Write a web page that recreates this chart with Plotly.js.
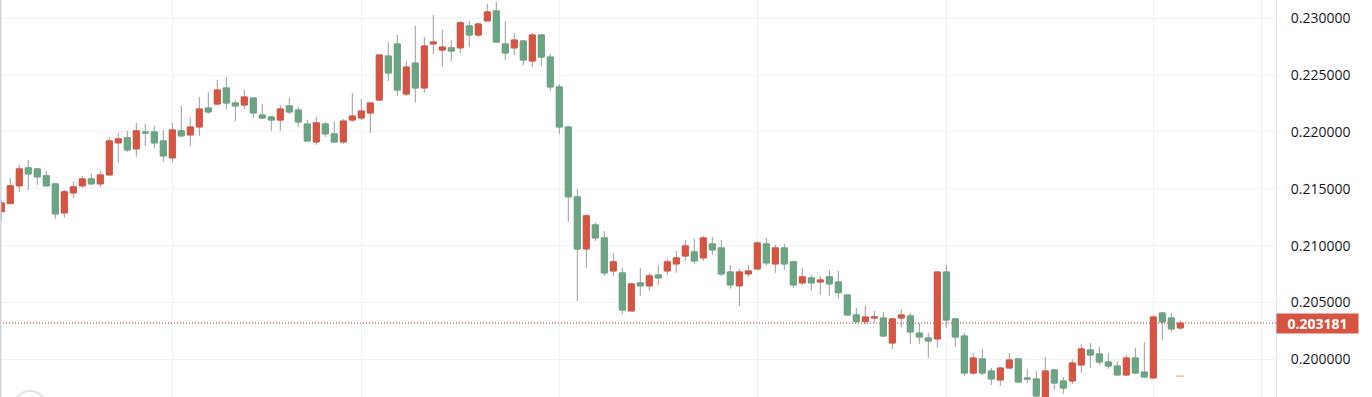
<!DOCTYPE html>
<html>
<head>
<meta charset="utf-8">
<script src="https://cdn.plot.ly/plotly-3.0.1.min.js"></script>
<style>html,body{margin:0;padding:0;background:#fff;}#chart{width:1372px;height:397px;}</style>
</head>
<body>
<div id="chart"></div>
<script>
// ---- data ----
const openVals = [
0.21299,0.2137,0.21526,0.21684,0.21675,0.21614,0.21543,0.21288,0.21464,0.21526,
0.21587,0.21543,0.21622,0.21904,0.21948,0.21851,0.2200,0.2200,0.21921,0.21772,
0.2201,0.21974,0.22044,0.22211,0.22246,0.22387,0.22255,0.22237,0.22299,0.22149,
0.22132,0.22105,0.22229,0.22193,0.2207,0.21912,0.2207,0.21983,0.21912,0.22105,
0.22123,0.22167,0.22281,0.22668,0.22774,0.22334,0.22606,0.22387,0.22774,0.22721,
0.2274,0.2274,0.22933,0.22853,0.22977,0.23065,0.22774,0.2274,0.228,0.22624,
0.22853,0.22659,0.22396,0.22044,0.21429,0.20971,0.21182,0.21068,0.20777,0.2076,
0.20425,0.20672,0.20646,0.20742,0.20777,0.20839,0.20909,0.20945,0.20892,0.21015,
0.2098,0.20768,0.20646,0.20751,0.20795,0.21015,0.20839,0.2098,0.20857,0.20672,
0.20716,0.2068,0.20725,0.2068,0.20566,0.2039,0.20331,0.20363,0.20363,0.20143,
0.20363,0.20381,0.20231,0.20187,0.20179,0.20768,0.20355,0.20205,0.19879,0.20003,
0.19897,0.19818,0.19923,0.20003,0.19836,0.19827,0.19662,0.19906,0.19809,0.19809,
0.1995,0.20082,0.20047,0.19976,0.19941,0.19862,0.20011,0.19888,0.19836,0.20407,
0.20363,0.20276];
const highVals = [
0.21402,0.21596,0.2171,0.21754,0.21675,0.21658,0.21552,0.2149,0.21561,0.21614,
0.21631,0.21658,0.21956,0.21992,0.2201,0.2208,0.2207,0.22053,0.22018,0.2208,
0.2223,0.22124,0.22308,0.22352,0.22457,0.22483,0.22281,0.22369,0.22299,0.22246,
0.2214,0.22237,0.22299,0.2222,0.22105,0.22132,0.22088,0.22088,0.22114,0.22343,
0.2229,0.22255,0.22677,0.22791,0.22853,0.22624,0.22933,0.22835,0.2303,0.22897,
0.22809,0.22977,0.22977,0.2296,0.23126,0.23144,0.22977,0.22871,0.22809,0.22871,
0.22862,0.22686,0.22422,0.22053,0.21499,0.21279,0.212,0.21129,0.20936,0.20804,
0.20672,0.20804,0.2076,0.20822,0.20883,0.20953,0.2105,0.21059,0.21085,0.21077,
0.2105,0.2083,0.20795,0.2083,0.21041,0.21068,0.21006,0.21015,0.20865,0.20804,
0.20742,0.20734,0.20786,0.20777,0.20566,0.20452,0.20469,0.20425,0.20416,0.20363,
0.20443,0.20407,0.20319,0.20231,0.20777,0.2083,0.20363,0.20231,0.20055,0.20091,
0.19923,0.19932,0.20055,0.20011,0.19915,0.19897,0.2002,0.19915,0.19844,0.2000,
0.20135,0.20143,0.20108,0.20055,0.19985,0.20038,0.201,0.20152,0.2039,0.20416,
0.20407,0.2034];
const lowVals = [
0.21211,0.21358,0.21473,0.2149,0.21534,0.21517,0.21235,0.21244,0.2142,0.21508,
0.21543,0.21517,0.21622,0.21728,0.21825,0.2178,0.21877,0.2186,0.21737,0.21737,
0.21965,0.21877,0.21965,0.22158,0.22237,0.22202,0.22096,0.22202,0.22123,0.22114,
0.2201,0.2201,0.22158,0.22044,0.21921,0.21886,0.21956,0.21904,0.21895,0.22088,
0.22105,0.21992,0.22272,0.22448,0.22316,0.22316,0.2226,0.22343,0.22686,0.22571,
0.22624,0.22695,0.22747,0.22835,0.22977,0.22791,0.22633,0.22677,0.22589,0.22571,
0.2258,0.2236,0.21983,0.21209,0.20513,0.20804,0.21041,0.20734,0.20734,0.20399,
0.20425,0.20558,0.20602,0.20654,0.20742,0.2076,0.20865,0.20839,0.20865,0.20918,
0.20734,0.20619,0.20469,0.20725,0.20786,0.20822,0.2076,0.20786,0.20628,0.20654,
0.20602,0.20566,0.20557,0.20533,0.20381,0.20319,0.2031,0.20319,0.20196,0.20091,
0.20284,0.20135,0.20135,0.20011,0.201,0.20275,0.20108,0.19853,0.19862,0.19862,
0.19774,0.19765,0.19923,0.198,0.19791,0.19668,0.19645,0.1973,0.19695,0.19783,
0.1988,0.19923,0.1995,0.19915,0.19862,0.19853,0.19871,0.19836,0.19827,0.2017,
0.2024,0.20258];
const closeVals = [
0.21376,0.21526,0.21675,0.21631,0.21605,0.21526,0.21279,0.21473,0.21517,0.21587,
0.21543,0.21622,0.21921,0.21939,0.21842,0.2201,0.21992,0.21904,0.21789,0.22018,
0.21965,0.22044,0.22202,0.22176,0.22369,0.22255,0.22229,0.22308,0.22167,0.22123,
0.22105,0.22202,0.22176,0.22088,0.21921,0.2208,0.21983,0.21912,0.22096,0.2214,
0.22184,0.22255,0.22677,0.22519,0.22369,0.22571,0.22387,0.22756,0.22791,0.22747,
0.22712,0.2296,0.22853,0.2295,0.23056,0.22791,0.22695,0.22809,0.22633,0.22853,
0.22659,0.22396,0.22044,0.21429,0.2097,0.21262,0.21068,0.2076,0.20857,0.20434,
0.20663,0.20646,0.20734,0.20716,0.20857,0.20892,0.20997,0.20865,0.21068,0.20962,
0.20751,0.20654,0.20768,0.20777,0.21024,0.20848,0.2098,0.20839,0.20654,0.20725,
0.20672,0.20698,0.20663,0.20586,0.2039,0.20331,0.20372,0.20372,0.20205,0.20355,
0.2039,0.2024,0.20196,0.20161,0.20768,0.20346,0.20196,0.19879,0.20011,0.19879,
0.19827,0.19923,0.19994,0.198,0.19827,0.19677,0.19897,0.19791,0.19747,0.19967,
0.20091,0.20038,0.19976,0.19941,0.19862,0.20011,0.19879,0.19844,0.20372,0.20328,
0.20267,0.203181];
// candle indices where the time grid lines fall
const gridCandles = [19, 40, 62, 84, 105, 128, 140];
// price ticks
const priceTicks = [0.200, 0.205, 0.210, 0.215, 0.220, 0.225, 0.230];
// small low-price marker near the last candle
const lowMarkerIndex = 131;
const lowMarkerPrice = 0.19851;

// ---- styling ----
const UP = '#d85442';
const DOWN = '#6ba584';
const WICK = '#9b9b9b';
const GRID = '#eff2f8';

const idx = openVals.map((_, i) => i);
const bodyHigh = openVals.map((o, i) => Math.max(o, closeVals[i]));
const bodyLow = openVals.map((o, i) => Math.min(o, closeVals[i]));
const lastClose = closeVals[closeVals.length - 1];

const wickTrace = {
  type: 'candlestick', x: idx,
  open: openVals, high: highVals, low: lowVals, close: closeVals,
  increasing: {line: {color: WICK, width: 1}, fillcolor: WICK},
  decreasing: {line: {color: WICK, width: 1}, fillcolor: WICK},
  hoverinfo: 'skip', showlegend: false
};
const bodyTrace = {
  type: 'candlestick', x: idx,
  open: openVals, high: bodyHigh, low: bodyLow, close: closeVals,
  increasing: {line: {color: UP, width: 1}, fillcolor: UP},
  decreasing: {line: {color: DOWN, width: 1}, fillcolor: DOWN},
  hoverinfo: 'skip', showlegend: false
};

const layout = {
  width: 1372, height: 397,
  margin: {l: 0, r: 96, t: 0, b: 0, pad: 0},
  paper_bgcolor: '#ffffff', plot_bgcolor: '#ffffff',
  font: {family: '"Open Sans", Roboto, sans-serif', size: 14, color: '#131722'},
  showlegend: false, hovermode: false,
  boxgap: 0.333, boxgroupgap: 0, boxmode: 'overlay',
  xaxis: {
    range: [-0.144, 141.63], rangeslider: {visible: false},
    tickmode: 'array', tickvals: gridCandles, showticklabels: false, ticks: '',
    showgrid: true, gridcolor: GRID, gridwidth: 1, zeroline: false, showline: false,
    fixedrange: true
  },
  yaxis: {
    side: 'right', range: [0.19668, 0.23161],
    tickmode: 'array', tickvals: priceTicks, ticktext: priceTicks.map(v => v.toFixed(6)),
    ticks: '', ticklabelstandoff: 11,
    tickfont: {family: '"Open Sans", Roboto, sans-serif', size: 14, color: '#131722'},
    showgrid: true, gridcolor: GRID, gridwidth: 1, zeroline: false,
    showline: true, linecolor: '#e0e3eb', linewidth: 1,
    fixedrange: true
  },
  shapes: [
    {type: 'line', xref: 'paper', x0: 0, x1: 1, yref: 'y', y0: lastClose, y1: lastClose,
     line: {color: UP, width: 1.4, dash: '1px,2px'}},
    {type: 'line', xref: 'x', x0: lowMarkerIndex - 0.5, x1: lowMarkerIndex + 0.4, yref: 'y',
     y0: lowMarkerPrice, y1: lowMarkerPrice, line: {color: '#f6b4a8', width: 1.5}},
    {type: 'line', xref: 'paper', x0: 0.0006, x1: 0.0006, yref: 'paper', y0: 0, y1: 1,
     line: {color: '#d1d4dc', width: 1.5}},
    {type: 'circle', xref: 'paper', yref: 'paper', x0: 13/1276, x1: 47/1276,
     y0: 1 - 425/397, y1: 1 - 391/397, line: {color: '#e0e3eb', width: 2}}
  ],
  annotations: [
    {xref: 'paper', x: 1, xanchor: 'left', yref: 'y', y: lastClose, yanchor: 'middle',
     text: lastClose.toFixed(6), showarrow: false, bgcolor: UP, borderpad: 3,
     width: 75, height: 13, align: 'center',
     font: {family: '"Open Sans", Roboto, sans-serif', size: 14, color: '#ffffff', weight: 'bold'}}
  ]
};

Plotly.newPlot('chart', [wickTrace, bodyTrace], layout, {staticPlot: true, displayModeBar: false});
</script>
</body>
</html>
